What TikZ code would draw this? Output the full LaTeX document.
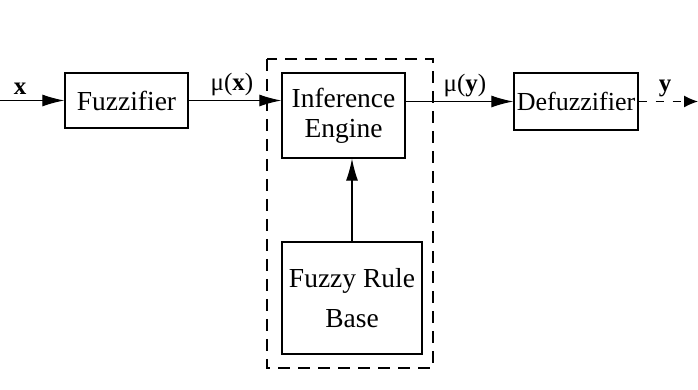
\documentclass[tikz,border=0pt]{standalone}
\usepackage{fontspec}
\setmainfont{Liberation Serif}
\usetikzlibrary{arrows.meta}
\begin{document}
\begin{tikzpicture}[x=1pt,y=1pt,
  blk/.style={draw, line width=1.3pt, align=center, inner sep=0pt, font=\fontsize{27.5}{30}\selectfont},
  arr/.style={line width=1.2pt, -{Latex[length=22pt,width=12pt]}},
  lbl/.style={font=\fontsize{25}{28}\selectfont, inner sep=0pt}]
\useasboundingbox (0,0) rectangle (698,390);
\node[blk, minimum width=123pt, minimum height=55pt] (fuzz) at (126.5,289.5) {Fuzzifier};
\node[blk, minimum width=123pt, minimum height=85pt] (inf) at (343.5,274.5) {Inference\\Engine};
\node[blk, minimum width=140pt, minimum height=112pt, font=\fontsize{27.5}{40}\selectfont] (frb) at (352,92) {Fuzzy Rule\\Base};
\node[blk, minimum width=124pt, minimum height=57pt, font=\fontsize{26}{30}\selectfont] (defuz) at (576,288.5) {Defuzzifier};
\draw[line width=1.3pt, dash pattern=on 12pt off 8pt] (267,331) rectangle (433,22);
\coordinate (in) at (0,289.5);
\coordinate (out) at (698,288.5);
\draw[arr] (in) -- (fuzz);
\draw[arr] (fuzz) -- (inf.west |- fuzz);
\draw[arr] (inf.east |- defuz) -- (defuz);
\draw[arr] (frb) -- (frb |- inf.south);
\draw[line width=1.2pt, dash pattern=on 8pt off 9pt, -{Latex[length=14pt,width=12pt]}] (defuz) -- (out);
\node[lbl] (lx) at (20,301) {\textbf{x}};
\node[lbl] (lmx) at (232,305) {μ(\textbf{x})};
\node[lbl] (lmy) at (465,304) {μ(\textbf{y})};
\node[lbl] (ly) at (665,302) {\textbf{y}};
\end{tikzpicture}
\end{document}
